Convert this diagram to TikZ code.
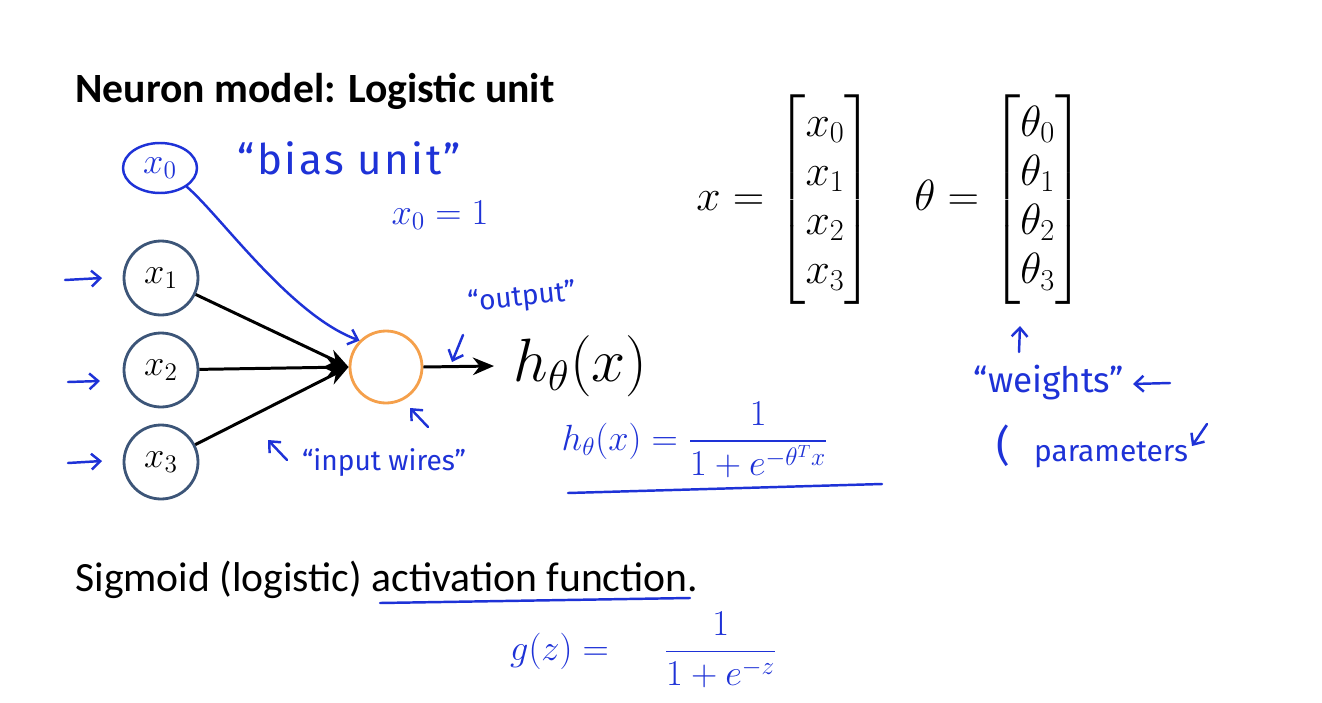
\documentclass[tikz,border=0pt]{standalone}
\usepackage{amsmath}
\usepackage{fontspec}
\usetikzlibrary{arrows.meta,shapes.geometric}
\newfontfamily\calib{Carlito}
\newfontfamily\hand{Fira Sans}
\definecolor{ink}{RGB}{30,50,215}
\definecolor{ring}{RGB}{60,85,120}
\definecolor{orng}{RGB}{245,160,75}
\begin{document}
\begin{tikzpicture}[x=0.02cm,y=-0.02cm,
  unit/.style={circle,draw=ring,line width=1.6pt,minimum size=1.48cm,inner sep=0pt,font=\fontsize{20}{24}\selectfont},
  wire/.style={draw=black,line width=1.7pt,-{Stealth[length=12pt,width=10pt]}},
  inkline/.style={draw=ink,line width=1.4pt,line cap=round,line join=round},
  inkarrow/.style={inkline,-{Straight Barb[length=5pt,width=9pt]}},
  note/.style={text=ink,font=\hand\fontsize{19}{22}\selectfont,inner sep=1pt},
  inkmath/.style={text=ink,font=\fontsize{20}{24}\selectfont,inner sep=1pt},
  slide/.style={inner sep=0pt,anchor=west}]
\useasboundingbox[fill=white] (0,0) rectangle (1322,703);

% titles
\node[slide,font=\calib\bfseries\fontsize{23.7}{28}\selectfont] (title) at (75,91) {Neuron model: Logistic unit};
\node[slide,font=\calib\fontsize{23.7}{28}\selectfont] (sig) at (75,580) {Sigmoid (logistic) activation function.};

% network
\node[unit] (x1) at (161,278) {$x_1$};
\node[unit] (x2) at (161,370) {$x_2$};
\node[unit] (x3) at (161,462) {$x_3$};
\node[circle,draw=orng,line width=1.6pt,minimum size=1.44cm,inner sep=0pt] (o) at (386,367) {};
\node[anchor=west,inner sep=0pt,font=\fontsize{20}{24}\selectfont,scale=1.68] (hx) at (513,366) {$h_\theta(x)$};
\draw[wire] (x1) -- (o.west);
\draw[wire] (x2) -- (o.west);
\draw[wire] (x3) -- (o.west);
\draw[wire] (o.east) -- ([xshift=-0.38cm]hx.west);

% vectors
\node[font=\fontsize{24}{28}\selectfont,inner sep=0pt,anchor=west] (xvec) at (696,200) {$x=\begin{bmatrix}x_0\\x_1\\x_2\\x_3\end{bmatrix}$};
\node[font=\fontsize{24}{28}\selectfont,inner sep=0pt,anchor=west] (tvec) at (914,200) {$\theta=\begin{bmatrix}\theta_0\\\theta_1\\\theta_2\\\theta_3\end{bmatrix}$};

% handwritten notes
\node[ellipse,draw=ink,line width=1.4pt,minimum width=1.48cm,minimum height=1.0cm,inner sep=0pt,text=ink,font=\fontsize{21}{22}\selectfont] (x0) at (160,168) {$x_0$};
\draw[inkarrow] (x0.-35) .. controls (220,215) and (290,315) .. (o.135);
\node[note,font=\hand\fontsize{24}{26}\selectfont\addfontfeature{LetterSpace=6}] (bias) at (349,158) {“bias unit”};
\node[note] (x0eq) at (440,215) {\fontsize{22}{24}\selectfont$x_0=1$};

\coordinate (a1s) at (65,280); \coordinate (a1e) at (102,278);
\coordinate (a2s) at (68,382); \coordinate (a2e) at (100,381);
\coordinate (a3s) at (68,463); \coordinate (a3e) at (102,461);
\draw[inkarrow] (a1s) -- (a1e);
\draw[inkarrow] (a2s) -- (a2e);
\draw[inkarrow] (a3s) -- (a3e);

\node[note,rotate=6,font=\hand\fontsize{16}{18}\selectfont] (outlbl) at (522,298) {“output”};
\coordinate (oas) at (463,335); \coordinate (oae) at (452,362);
\draw[inkarrow] (oas) -- (oae);
\coordinate (uas) at (428,427); \coordinate (uae) at (410,408);
\draw[inkarrow] (uas) -- (uae);
\coordinate (ias) at (287,460); \coordinate (iae) at (268,440);
\draw[inkarrow] (ias) -- (iae);
\node[note,font=\hand\fontsize{16}{18}\selectfont] (inwires) at (384,463) {“input wires”};

\node[inkmath] (hform) at (695,440) {$h_\theta(x)=\dfrac{1}{1+e^{-\theta^Tx}}$};
\coordinate (ul1s) at (568,493); \coordinate (ul1e) at (882,484);
\draw[inkline] (ul1s) -- (ul1e);

\coordinate (was) at (1019,352); \coordinate (wae) at (1020,326);
\draw[inkarrow] (was) -- (wae);
\node[note,font=\hand\fontsize{20}{22}\selectfont] (weights) at (1049,383) {“weights”};
\coordinate (wls) at (1170,383); \coordinate (wle) at (1133,384);
\draw[inkarrow] (wls) -- (wle);
\node[note,font=\hand\fontsize{24}{26}\selectfont] (paren) at (1003,446) {(};
\node[note,font=\hand\fontsize{17}{20}\selectfont] (params) at (1111,455) {parameters};
\coordinate (pas) at (1207,424); \coordinate (pae) at (1192,446);
\draw[inkarrow] (pas) -- (pae);

\coordinate (ul2s) at (380,603); \coordinate (ul2e) at (690,598);
\draw[inkline] (ul2s) -- (ul2e);
\node[inkmath,anchor=west] (gform) at (508,650) {$g(z)=\quad\hspace{0.2cm}\dfrac{1}{1+e^{-z}}$};
\end{tikzpicture}
\end{document}
